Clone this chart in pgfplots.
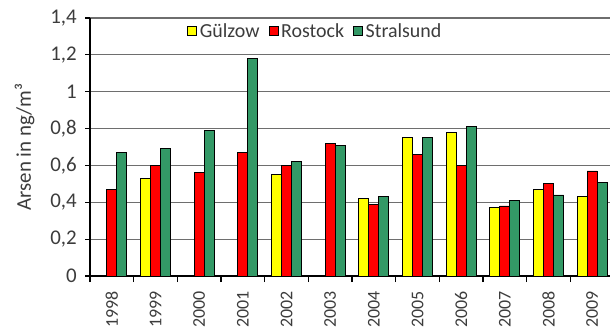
\documentclass[border=0pt]{standalone}
\usepackage{fontspec}
\setmainfont{Carlito}
\usepackage{pgfplots}
\pgfplotsset{compat=1.18}
\definecolor{gzyellow}{RGB}{255,255,0}
\definecolor{rored}{RGB}{255,0,0}
\definecolor{stgreen}{RGB}{51,153,102}
\definecolor{gridgray}{RGB}{110,110,110}
\definecolor{labgray}{RGB}{60,60,60}

\begin{document}
\begin{tikzpicture}
\path[use as bounding box] (0,0) rectangle (610bp,335bp);
\begin{axis}[
  at={(90bp,59bp)}, anchor=south west,
  scale only axis, width=524bp, height=258bp,
  xmin=-0.5, xmax=11.5, ymin=0, ymax=1.4,
  axis x line*=bottom, axis y line*=left,
  axis line style={black, line width=1.4bp, -},
  ybar=0pt, bar width=10bp,
  ytick={0,0.2,0.4,0.6,0.8,1,1.2,1.4},
  ymajorgrids, major grid style={gridgray, line width=1.2bp},
  y tick label style={font=\fontsize{21}{23}\selectfont, text=labgray, outer xsep=5bp},
  /pgf/number format/use comma,
  /pgf/number format/assume math mode=true,
  xtick={0,...,11},
  xticklabels={1998,1999,2000,2001,2002,2003,2004,2005,2006,2007,2008,2009},
  x tick label style={rotate=90, anchor=east, outer xsep=7bp,
    font=\fontsize{18}{20}\selectfont, text=labgray},
  minor xtick={-0.5,0.5,...,11.5},
  xtick align=outside, ytick align=outside,
  major x tick style={draw=none},
  major y tick style={black, line width=1.2bp},
  minor tick style={black, line width=1.2bp},
  major tick length=5bp, minor tick length=6bp,
  ylabel={Arsen in ng/m³},
  ylabel shift=9bp,
  ylabel style={font=\fontsize{21}{23}\selectfont, text=labgray},
  legend columns=3,
  legend style={draw=none, fill=none, at={(0.43,0.95)}, anchor=center,
    font=\fontsize{20}{22}\selectfont, text=labgray,
    /tikz/every odd column/.append style={column sep=1bp},
    /tikz/every even column/.append style={column sep=7bp}},
  legend image code/.code={\draw[#1, draw=black, line width=0.6bp] (0bp,-4bp) rectangle (9bp,5bp);},
  every axis plot/.append style={draw=black, line width=0.8bp},
]
% Gülzow
\addplot[fill=gzyellow] coordinates {
  (1,0.53) (4,0.55) (6,0.42) (7,0.75) (8,0.78) (9,0.37) (10,0.47) (11,0.43)};
% Rostock
\addplot[fill=rored] coordinates {
  (0,0.47) (1,0.60) (2,0.56) (3,0.67) (4,0.60) (5,0.72) (6,0.39)
  (7,0.66) (8,0.60) (9,0.38) (10,0.50) (11,0.57)};
% Stralsund
\addplot[fill=stgreen] coordinates {
  (0,0.67) (1,0.69) (2,0.79) (3,1.18) (4,0.62) (5,0.71) (6,0.43)
  (7,0.75) (8,0.81) (9,0.41) (10,0.44) (11,0.51)};
\legend{Gülzow, Rostock, Stralsund}
\end{axis}
\end{tikzpicture}
\end{document}
